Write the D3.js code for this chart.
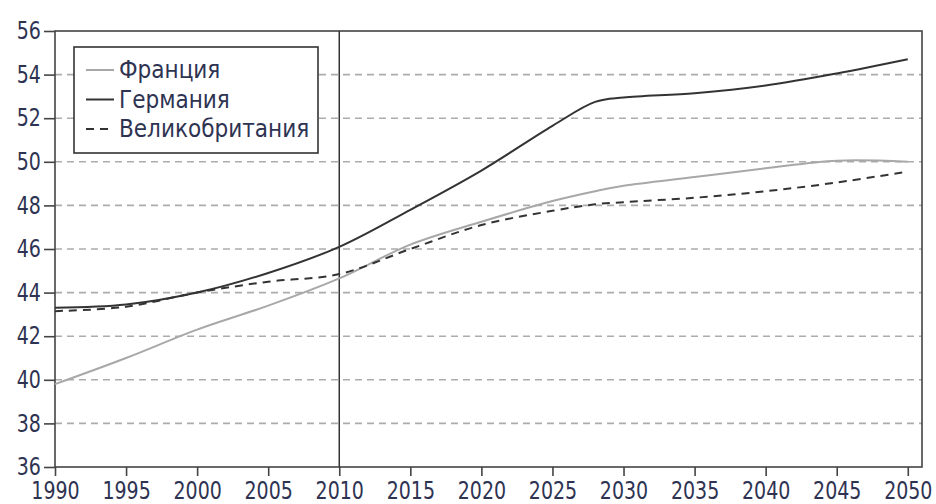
<!DOCTYPE html>
<html>
<head>
<meta charset="utf-8">
<script src="https://cdn.jsdelivr.net/npm/d3@7"></script>
<style>
body { margin: 0; background: #fff; }
svg text { font-family: "Liberation Sans Narrow", "DejaVu Sans Condensed", "Roboto", sans-serif; font-stretch: condensed; fill: #2e3352; }
</style>
</head>
<body>
<div id="chart"></div>
<script>
// median age, years
var years   = [1990, 1995, 2000, 2005, 2010, 2015, 2020, 2025, 2028, 2030, 2035, 2040, 2045, 2050];
var france  = [39.8, 41.0, 42.3, 43.4, 44.65, 46.2, 47.25, 48.2, 48.65, 48.9, 49.3, 49.7, 50.05, 50.0];
var germany = [43.3, 43.45, 44.0, 44.9, 46.1, 47.8, 49.6, 51.65, 52.75, 52.95, 53.15, 53.5, 54.05, 54.7];
var britain = [43.15, 43.35, 44.0, 44.5, 44.85, 46.0, 47.1, 47.75, 48.05, 48.15, 48.35, 48.65, 49.05, 49.55];
var xTicks  = [1990, 1995, 2000, 2005, 2010, 2015, 2020, 2025, 2030, 2035, 2040, 2045, 2050];
var yTicks  = [36, 38, 40, 42, 44, 46, 48, 50, 52, 54, 56];
var names   = ["Франция", "Германия", "Великобритания"];

var width = 936, height = 504;
var mLeft = 55, mRight = 922, mTop = 31, mBottom = 467;

var svg = d3.select("#chart").append("svg")
	.attr("width", width)
	.attr("height", height);

var x = d3.scaleLinear().domain([1990, 2051]).range([mLeft, mRight]);
var y = d3.scaleLinear().domain([36, 56]).range([mBottom, mTop]);

// dashed grid
svg.append("g").selectAll("line")
	.data(yTicks.filter(function(d) { return d > 36 && d < 56; }))
	.enter().append("line")
	.attr("x1", mLeft).attr("x2", mRight)
	.attr("y1", function(d) { return y(d); })
	.attr("y2", function(d) { return y(d); })
	.style("stroke", "#acacac")
	.style("stroke-width", 1.6)
	.style("stroke-dasharray", "7,5");

// frame
svg.append("rect")
	.attr("x", mLeft).attr("y", mTop)
	.attr("width", mRight - mLeft).attr("height", mBottom - mTop)
	.style("fill", "none")
	.style("stroke", "#444")
	.style("stroke-width", 1.6);

// 2010 marker
svg.append("line")
	.attr("x1", x(2010)).attr("x2", x(2010))
	.attr("y1", mTop).attr("y2", mBottom)
	.style("stroke", "#333")
	.style("stroke-width", 1.5);

var yAxis = svg.append("g")
	.attr("transform", "translate(" + mLeft + ",0)")
	.call(d3.axisLeft(y).tickValues(yTicks).tickSize(11).tickPadding(5).tickFormat(d3.format("d")));
var xAxis = svg.append("g")
	.attr("transform", "translate(0," + mBottom + ")")
	.call(d3.axisBottom(x).tickValues(xTicks).tickSize(9).tickPadding(6).tickFormat(d3.format("d")));

[yAxis, xAxis].forEach(function(a) {
	a.select(".domain").remove();
	a.selectAll(".tick line").style("stroke", "#444").style("stroke-width", 1.6);
	a.selectAll("text")
		.style("font-size", "24px")
		.style("fill", "#2e3352")
		.attr("transform", "scale(0.88,1)");
});

var line = d3.line()
	.x(function(d, i) { return x(years[i]); })
	.y(function(d) { return y(d); })
	.curve(d3.curveCatmullRom.alpha(0.5));

var styles = [
	{ data: france, color: "#a8a8a8", dash: null },
	{ data: germany, color: "#333", dash: null },
	{ data: britain, color: "#333", dash: "8,6" }
];

styles.forEach(function(s) {
	svg.append("path")
		.attr("d", line(s.data))
		.style("fill", "none")
		.style("stroke", s.color)
		.style("stroke-width", 2)
		.style("stroke-dasharray", s.dash);
});

// legend
var legend = svg.append("g");
legend.append("rect")
	.attr("x", 74).attr("y", 47)
	.attr("width", 244).attr("height", 106)
	.style("fill", "#fff")
	.style("stroke", "#333")
	.style("stroke-width", 1.6);

styles.forEach(function(s, i) {
	var ly = 70 + i * 29.5;
	legend.append("line")
		.attr("x1", 86).attr("x2", 114)
		.attr("y1", ly).attr("y2", ly)
		.style("stroke", s.color)
		.style("stroke-width", 2)
		.style("stroke-dasharray", s.dash);
	legend.append("text")
		.attr("x", 119).attr("y", ly)
		.attr("dy", "0.35em")
		.style("font-size", "24px")
		.text(names[i]);
});
</script>
</body>
</html>
